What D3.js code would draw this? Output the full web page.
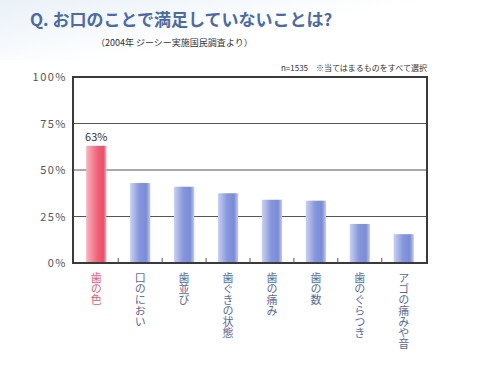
<!DOCTYPE html>
<html>
<head>
<meta charset="utf-8">
<script src="https://cdn.jsdelivr.net/npm/d3@7"></script>
<style>
  body { margin: 0; background: #fff; }
  svg text { font-family: "Noto Sans CJK JP", "Noto Sans", sans-serif; }
</style>
</head>
<body>
<div id="chart"></div>
<script>
// data
const categories = ["歯の色", "口のにおい", "歯並び", "歯ぐきの状態", "歯の痛み", "歯の数", "歯のぐらつき", "アゴの痛みや音"];
const values = [63, 43, 41, 37.5, 34, 33.5, 21, 15.5];
const yTicks = [0, 25, 50, 75, 100];
const titleText = "Q. お口のことで満足していないことは?";
const subtitleText = "（2004年 ジーシー実施国民調査より）";
const noteText = "n=1535　※当てはまるものをすべて選択";

function init() {
    const width = 492;
    const height = 370;
    const margin = {top: 77, right: 65, bottom: 107, left: 73};

    const svg = d3.select("#chart").append("svg")
        .attr("width", width)
        .attr("height", height);

    // soft background wash
    const defs = svg.append("defs");
    const bg = defs.append("linearGradient").attr("id", "bg")
        .attr("x1", "0%").attr("y1", "0%").attr("x2", "60%").attr("y2", "40%");
    bg.append("stop").attr("offset", "0%").attr("stop-color", "#e9f1f8");
    bg.append("stop").attr("offset", "100%").attr("stop-color", "#ffffff");
    svg.append("rect").attr("width", width).attr("height", 60).attr("fill", "url(#bg)");

    const red = defs.append("linearGradient").attr("id", "gRed");
    red.append("stop").attr("offset", "0%").attr("stop-color", "#f9b6c0");
    red.append("stop").attr("offset", "55%").attr("stop-color", "#ef6478");
    red.append("stop").attr("offset", "85%").attr("stop-color", "#ec4d65");
    red.append("stop").attr("offset", "100%").attr("stop-color", "#f6a8b4");

    const blue = defs.append("linearGradient").attr("id", "gBlue");
    blue.append("stop").attr("offset", "0%").attr("stop-color", "#c9d2f2");
    blue.append("stop").attr("offset", "45%").attr("stop-color", "#8797dc");
    blue.append("stop").attr("offset", "80%").attr("stop-color", "#7b8bd6");
    blue.append("stop").attr("offset", "100%").attr("stop-color", "#c2cbef");

    // title
    svg.append("text")
        .attr("x", 30).attr("y", 26)
        .attr("font-size", 17).attr("font-weight", "bold")
        .attr("fill", "#4b6aa6")
        .text(titleText);
    svg.append("text")
        .attr("x", 96).attr("y", 46)
        .attr("font-size", 9).attr("fill", "#333")
        .text(subtitleText);

    const x = d3.scaleBand()
        .domain(categories)
        .range([margin.left, width - margin.right])
        .paddingInner(0.54)
        .paddingOuter(0.3);

    const y = d3.scaleLinear()
        .domain([0, 100])
        .range([height - margin.bottom, margin.top]);

    const x0 = margin.left, x1 = width - margin.right;

    // gridlines
    svg.append("g").selectAll("line")
        .data(yTicks.filter(d => d > 0 && d < 100))
        .join("line")
        .attr("x1", x0).attr("x2", x1)
        .attr("y1", d => y(d)).attr("y2", d => y(d))
        .attr("stroke", "#555").attr("stroke-width", 1);

    // bars
    svg.append("g").selectAll("rect")
        .data(values)
        .join("rect")
        .attr("x", (d, i) => x(categories[i]))
        .attr("y", d => y(d))
        .attr("width", x.bandwidth())
        .attr("height", d => y(0) - y(d))
        .attr("fill", (d, i) => i === 0 ? "url(#gRed)" : "url(#gBlue)");

    // frame
    svg.append("rect")
        .attr("x", x0).attr("y", y(100))
        .attr("width", x1 - x0).attr("height", y(0) - y(100))
        .attr("fill", "none").attr("stroke", "#3a3a3a").attr("stroke-width", 2);

    // small ticks between bars
    svg.append("g").selectAll("line")
        .data(categories.slice(1))
        .join("line")
        .attr("x1", d => x(d) - x.step() * x.paddingInner() / 2)
        .attr("x2", d => x(d) - x.step() * x.paddingInner() / 2)
        .attr("y1", y(0)).attr("y2", y(0) - 5)
        .attr("stroke", "#555").attr("stroke-width", 1);

    // y axis labels
    svg.append("g").selectAll("text")
        .data(yTicks)
        .join("text")
        .attr("x", x0 - 6)
        .attr("y", d => y(d) + 4)
        .attr("text-anchor", "end")
        .attr("font-size", 11)
        .attr("letter-spacing", 1.5)
        .attr("fill", "#555")
        .text(d => d + "%");

    // value label on top bar
    svg.append("text")
        .attr("x", x(categories[0]) + x.bandwidth() / 2)
        .attr("y", y(values[0]) - 5)
        .attr("text-anchor", "middle")
        .attr("font-size", 11)
        .attr("fill", "#333")
        .text(Math.round(values[0]) + "%");

    // note
    svg.append("text")
        .attr("x", x1).attr("y", 71)
        .attr("text-anchor", "end")
        .attr("font-size", 8)
        .attr("fill", "#333")
        .text(noteText);

    // vertical category labels
    svg.append("g").selectAll("text")
        .data(categories)
        .join("text")
        .attr("x", d => x(d) + x.bandwidth() / 2)
        .attr("y", y(0) + 9)
        .style("writing-mode", "vertical-rl")
        .style("text-orientation", "upright")
        .attr("letter-spacing", 0)
        .attr("font-size", 11)
        .attr("fill", (d, i) => i === 0 ? "#ea5a72" : "#5a6b98")
        .text(d => d);
}

window.addEventListener("load", init);
</script>
</body>
</html>
